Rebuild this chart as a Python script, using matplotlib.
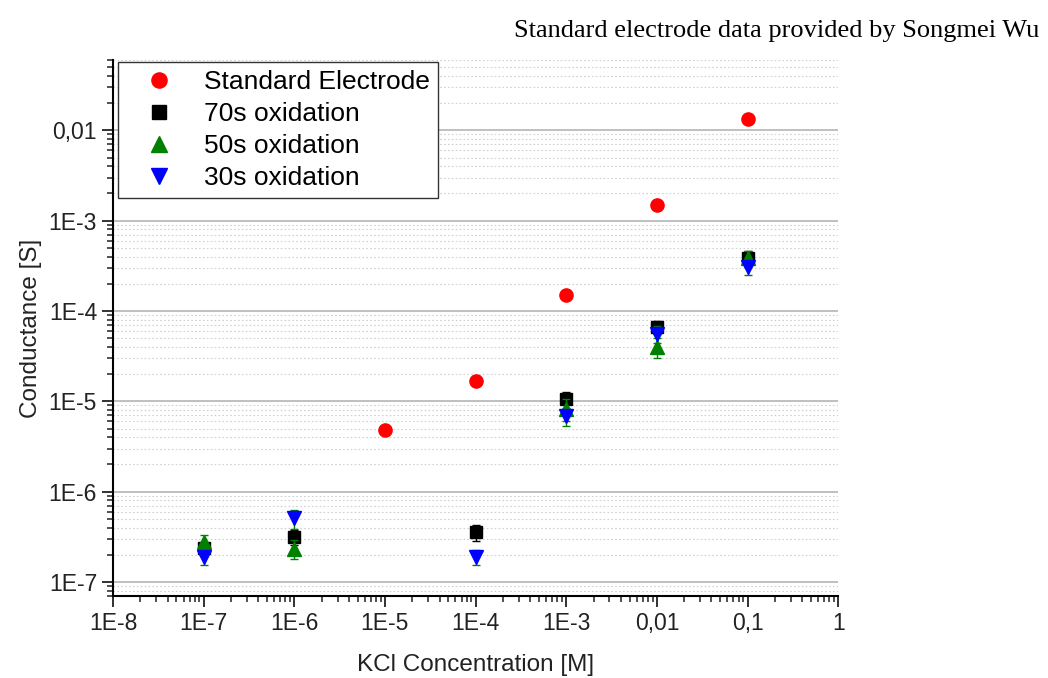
import matplotlib.pyplot as plt
from matplotlib.ticker import LogLocator, NullFormatter

# KCl concentration [M] and conductance [S]
std_x = [1e-5, 1e-4, 1e-3, 1e-2, 1e-1]
std_y = [4.8e-6, 1.66e-5, 1.5e-4, 1.48e-3, 0.0132]

ox70_x = [1e-7, 1e-6, 1e-4, 1e-3, 1e-2, 1e-1]
ox70_y = [2.4e-7, 3.15e-7, 3.55e-7, 1.05e-5, 6.7e-5, 3.9e-4]
ox70_err = [0.3e-7, 0.6e-7, 0.7e-7, 2.2e-6, 1.1e-5, 7e-5]

ox50_x = [1e-7, 1e-6, 1e-3, 1e-2, 1e-1]
ox50_y = [2.75e-7, 2.35e-7, 8.3e-6, 4.0e-5, 3.85e-4]
ox50_err = [0.55e-7, 0.55e-7, 2.2e-6, 1.0e-5, 8e-5]

ox30_x = [1e-7, 1e-6, 1e-4, 1e-3, 1e-2, 1e-1]
ox30_y = [1.9e-7, 5.1e-7, 1.9e-7, 6.9e-6, 5.6e-5, 3.1e-4]
ox30_err = [0.35e-7, 1.2e-7, 0.35e-7, 1.6e-6, 1.2e-5, 6e-5]

xticks = [1e-8, 1e-7, 1e-6, 1e-5, 1e-4, 1e-3, 1e-2, 1e-1, 1]
xlabels = ["1E-8", "1E-7", "1E-6", "1E-5", "1E-4", "1E-3", "0,01", "0,1", "1"]
yticks = [1e-7, 1e-6, 1e-5, 1e-4, 1e-3, 1e-2]
ylabels = ["1E-7", "1E-6", "1E-5", "1E-4", "1E-3", "0,01"]

plt.rcParams['font.family'] = ['Liberation Sans', 'DejaVu Sans']

fig = plt.figure(figsize=(10.48, 6.78), dpi=100)
ax = fig.add_axes([0.1078, 0.1209, 0.692, 0.7906])

ax.plot(std_x, std_y, 'o', color='#ff0000', ms=9.5, label="Standard Electrode", zorder=3)
# error bars first, markers for the legend separately
ax.errorbar(ox70_x, ox70_y, yerr=ox70_err, fmt='none', ecolor='black',
            capsize=3, elinewidth=1, zorder=4)
ax.plot(ox70_x, ox70_y, 's', color='black', ms=8.5, label="70s oxidation", zorder=4)
ax.errorbar(ox50_x, ox50_y, yerr=ox50_err, fmt='none', ecolor='#008000',
            capsize=3, elinewidth=1, zorder=5)
ax.plot(ox50_x, ox50_y, '^', color='#008000', ms=10, label="50s oxidation", zorder=5)
ax.errorbar(ox30_x, ox30_y, yerr=ox30_err, fmt='none', ecolor='#008000',
            capsize=3, elinewidth=1, zorder=6)
ax.plot(ox30_x, ox30_y, 'v', color='#0000ff', ms=10, label="30s oxidation", zorder=6)

ax.set_xscale('log')
ax.set_yscale('log')
ax.set_xlim(1e-8, 1)
ax.set_ylim(7e-8, 0.06)

ax.set_xticks(xticks)
ax.set_xticklabels(xlabels)
ax.set_yticks(yticks)
ax.set_yticklabels(ylabels)
ax.xaxis.set_minor_locator(LogLocator(base=10, subs=range(2, 10), numticks=20))
ax.yaxis.set_minor_locator(LogLocator(base=10, subs=range(2, 10), numticks=20))
ax.xaxis.set_minor_formatter(NullFormatter())
ax.yaxis.set_minor_formatter(NullFormatter())
ax.tick_params(which='major', length=8, width=1.3, labelsize=16.5, direction='out', colors='#222222')
ax.tick_params(which='minor', length=4, width=1.1, direction='out', colors='#222222')

ax.spines['top'].set_visible(False)
ax.spines['right'].set_visible(False)
ax.spines['left'].set_linewidth(1.5)
ax.spines['bottom'].set_linewidth(1.5)

ax.yaxis.grid(True, which='major', color='#b4b4b4', linewidth=1.2)
ax.yaxis.grid(True, which='minor', color='#d0d0d0', linewidth=0.8, linestyle=(0, (1.5, 2)))
ax.set_axisbelow(True)

ax.set_xlabel("KCl Concentration [M]", fontsize=17.5, labelpad=14, color='#222222')
ax.set_ylabel("Conductance [S]", fontsize=17.5, labelpad=5, color='#222222')

leg = ax.legend(loc='upper left', bbox_to_anchor=(0.007, 0.996), fontsize=19, frameon=True,
                fancybox=False, edgecolor='#333333', framealpha=1, borderpad=0.3,
                labelspacing=0.3, handletextpad=0.45, borderaxespad=0.0, handlelength=2.5,
                markerscale=1.15)
leg.get_frame().set_linewidth(1.0)

fig.text(0.992, 0.955, "Standard electrode data provided by Songmei Wu", ha='right', va='center',
         fontsize=19, family=['Liberation Serif', 'DejaVu Serif'])

fig.savefig("out.png", dpi=100)
